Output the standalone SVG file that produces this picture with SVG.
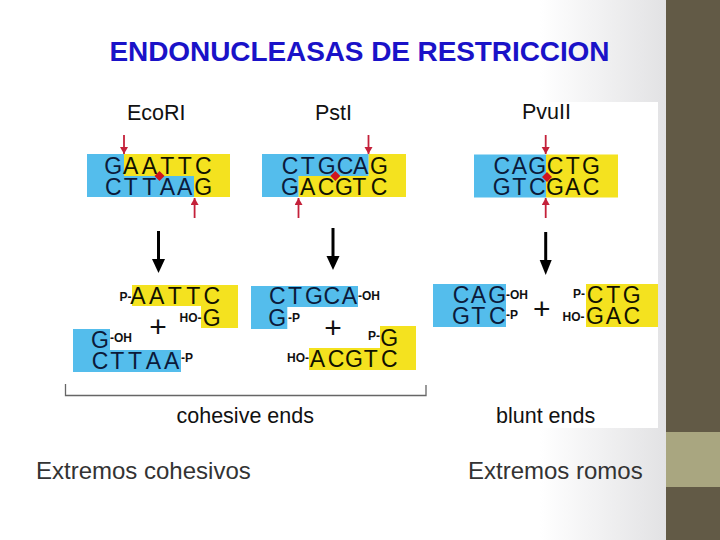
<svg xmlns="http://www.w3.org/2000/svg" width="720" height="540" viewBox="0 0 720 540">
<style>
.lab{font-family:"Liberation Sans",Arial,sans-serif;font-size:21.5px;fill:#111}
.b{font-family:"Liberation Sans",Arial,sans-serif;font-size:23px;fill:#0b1a3a;text-anchor:middle}
.y{fill:#111100}
.s{font-family:"Liberation Sans",Arial,sans-serif;font-size:12px;font-weight:bold;fill:#111}
.plus{font-family:"Liberation Sans",Arial,sans-serif;font-size:30px;fill:#111;text-anchor:middle}
.cap{font-family:"Liberation Sans",Arial,sans-serif;font-size:24px;fill:#333}
.blue{fill:#54bdec}
.yel{fill:#f4e21f}
.red{stroke:#c4213a;stroke-width:1.8;fill:none;marker-end:url(#ra)}
.blk{stroke:#000;stroke-width:3;fill:none}
.dia{fill:#d0141f}
</style>
<defs>
<linearGradient id="bg" gradientUnits="userSpaceOnUse" x1="540" y1="0" x2="666" y2="0">
<stop offset="0" stop-color="#ffffff"/>
<stop offset="1" stop-color="#e2e2e4"/>
</linearGradient>
<marker id="ra" markerUnits="userSpaceOnUse" markerWidth="8" markerHeight="9" refX="7" refY="4" orient="auto">
<path d="M0 0L7 4L0 8Z" fill="#c4213a"/>
</marker>
</defs>
<rect id="background" width="720" height="540" fill="url(#bg)"/>
<g id="sidebar">
<rect x="666" width="54" height="540" fill="#625a46"/>
<rect x="666" y="432" width="54" height="55" fill="#a9a680"/>
</g>
<rect id="panel" x="66" y="102" width="592" height="326" fill="#fff"/>
<text id="title" x="109.500" y="61" font-family="Liberation Sans,Arial,sans-serif" font-size="28" font-weight="bold" textLength="500" fill="#1a12c8" style="letter-spacing:0">ENDONUCLEASAS DE RESTRICCION</text>

<g id="ecori">
<text class="lab" x="127" y="119.500">EcoRI</text>
<path class="blue" d="M87 154H124V176H194V197H87Z"/>
<path class="yel" d="M124 154H230V197H194V176H124Z"/>
<text class="b" x="113.300" y="174">G</text>
<text class="b y" x="130.700 149.300 167.300 184.700 203.300" y="174">AATTC</text>
<text class="b" x="113.300 130.700 149.300 167.300 184.700" y="195">CTTAA</text>
<text class="b y" x="203.300" y="195">G</text>
<path class="dia" d="M159.500 171L164.500 176L159.500 181L154.500 176Z"/>
</g>
<g id="psti">
<text class="lab" x="315" y="119.500">PstI</text>
<path class="blue" d="M262 154H368.700V176H298.700V197H262Z"/>
<path class="yel" d="M368.700 154H406V197H298.700V176H368.700Z"/>
<text class="b" x="290 307.700 326.700 345 360.700" y="174">CTGCA</text>
<text class="b y" x="379" y="174">G</text>
<text class="b" x="290" y="195">G</text>
<text class="b y" x="307.700 326 344 359.300 379" y="195">ACGTC</text>
<path class="dia" d="M335.300 171L340.300 176L335.300 181L330.300 176Z"/>
</g>
<g id="pvuii">
<text class="lab" x="522" y="119">PvuII</text>
<rect class="blue" x="474" y="154.500" width="72" height="43"/>
<rect class="yel" x="546" y="154.500" width="72" height="43"/>
<text class="b" x="501.700 519.300 537.300" y="174">CAG</text>
<text class="b y" x="555 572.700 591" y="174">CTG</text>
<text class="b" x="501.700 519.300 537.300" y="195">GTC</text>
<text class="b y" x="555 572.700 591" y="195">GAC</text>
<path class="dia" d="M547 172L552 177L547 182L542 177Z"/>
</g>

<g id="ecori-products">
<path class="yel" d="M132 285H238V328H201V306H132Z"/>
<text class="s" x="119.500" y="301">P-</text>
<text class="b y" x="138 156.700 174.700 193.300 211.700" y="304">AATTC</text>
<text class="s" x="179.500" y="322">HO-</text>
<text class="b y" x="211.700" y="325.500">G</text>
<path class="blue" d="M73 329H110V350H181V372H73Z"/>
<text class="b" x="100" y="347.500">G</text>
<text class="s" x="110" y="342">-OH</text>
<text class="b" x="100 117.300 135 153.300 171.700" y="369">CTTAA</text>
<text class="s" x="181" y="362">-P</text>
<text class="plus" x="158" y="337">+</text>
</g>
<g id="psti-products">
<path class="blue" d="M251 286H358V307H287.300V329H251Z"/>
<text class="b" x="277.300 295 314 331.700 349.300" y="304">CTGCA</text>
<text class="s" x="358" y="300">-OH</text>
<text class="b" x="277.300" y="325.500">G</text>
<text class="s" x="288" y="322">-P</text>
<text class="plus" x="333" y="338">+</text>
<path class="yel" d="M380 326H416V370H309V348H380Z"/>
<text class="s" x="368" y="340">P-</text>
<text class="b y" x="389.300" y="346">G</text>
<text class="s" x="287" y="362">HO-</text>
<text class="b y" x="317.300 336 354 370.700 389.300" y="367">ACGTC</text>
</g>
<g id="pvuii-products">
<rect class="blue" x="433" y="284" width="73" height="43"/>
<text class="b" x="461 478.300 497.300" y="303">CAG</text>
<text class="s" x="506" y="299">-OH</text>
<text class="b" x="461 478.300 497.300" y="324">GTC</text>
<text class="s" x="506" y="319">-P</text>
<text class="plus" x="541.700" y="319">+</text>
<rect class="yel" x="586" y="284" width="72" height="43"/>
<text class="s" x="573" y="298">P-</text>
<text class="b y" x="595 613.300 631.700" y="303">CTG</text>
<text class="s" x="562.500" y="321">HO-</text>
<text class="b y" x="595 613.300 631.700" y="324">GAC</text>
</g>

<g id="connectors">
<path class="red" d="M124 135V154"/>
<path class="red" d="M194.600 218V198"/>
<path class="red" d="M368.500 135V154"/>
<path class="red" d="M298.500 218V198"/>
<path class="red" d="M545.700 135V154"/>
<path class="red" d="M545.700 218V198"/>
<path class="blk" d="M158.500 231V260"/><path d="M152 259H165L158.500 273Z"/>
<path class="blk" d="M333 228V257"/><path d="M326.500 256H339.500L333 270Z"/>
<path class="blk" d="M545.700 232V261"/><path d="M539.700 260H551.700L545.700 275Z"/>
<path d="M65.500 384V395.500H426V385" fill="none" stroke="#666" stroke-width="1.300"/>
</g>
<text id="cohesive-ends" class="lab" x="176.500" y="423">cohesive ends</text>
<text id="blunt-ends" class="lab" x="496" y="423">blunt ends</text>
<text id="caption-left" class="cap" x="36" y="479">Extremos cohesivos</text>
<text id="caption-right" class="cap" x="468" y="479">Extremos romos</text>
</svg>
